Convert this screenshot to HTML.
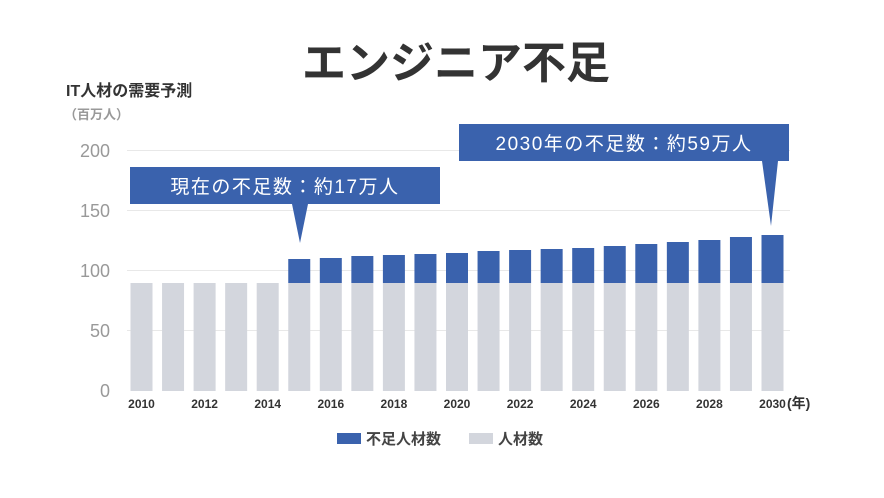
<!DOCTYPE html>
<html><head><meta charset="utf-8"><style>
html,body{margin:0;padding:0;background:#fff;}
svg{display:block;font-family:"Liberation Sans","Noto Sans CJK JP",sans-serif;}
</style></head><body>
<svg width="884" height="498" viewBox="0 0 884 498" xmlns="http://www.w3.org/2000/svg">
<rect width="884" height="498" fill="#fff"/>
<text x="456" y="78" text-anchor="middle" font-size="44" font-weight="bold" fill="#333">エンジニア不足</text>
<text x="66" y="96" font-size="16" font-weight="bold" fill="#333">IT人材の需要予測</text>
<text x="64" y="119" font-size="13" font-weight="bold" fill="#999">（百万人）</text>
<g stroke="#e8e8e8" stroke-width="1">
<line x1="127" y1="150.5" x2="790" y2="150.5"/>
<line x1="127" y1="210.5" x2="790" y2="210.5"/>
<line x1="127" y1="270.5" x2="790" y2="270.5"/>
<line x1="127" y1="330.5" x2="790" y2="330.5"/>
</g>
<g font-size="18" fill="#999" text-anchor="end">
<text x="110" y="157">200</text>
<text x="110" y="217">150</text>
<text x="110" y="277">100</text>
<text x="110" y="337">50</text>
<text x="110" y="397">0</text>
</g>
<g fill="#d3d6dd">
<rect x="130.5" y="283" width="22" height="108"/>
<rect x="162.05" y="283" width="22" height="108"/>
<rect x="193.6" y="283" width="22" height="108"/>
<rect x="225.15" y="283" width="22" height="108"/>
<rect x="256.7" y="283" width="22" height="108"/>
<rect x="288.25" y="283" width="22" height="108"/>
<rect x="319.8" y="283" width="22" height="108"/>
<rect x="351.35" y="283" width="22" height="108"/>
<rect x="382.9" y="283" width="22" height="108"/>
<rect x="414.45" y="283" width="22" height="108"/>
<rect x="446" y="283" width="22" height="108"/>
<rect x="477.55" y="283" width="22" height="108"/>
<rect x="509.1" y="283" width="22" height="108"/>
<rect x="540.65" y="283" width="22" height="108"/>
<rect x="572.2" y="283" width="22" height="108"/>
<rect x="603.75" y="283" width="22" height="108"/>
<rect x="635.3" y="283" width="22" height="108"/>
<rect x="666.85" y="283" width="22" height="108"/>
<rect x="698.4" y="283" width="22" height="108"/>
<rect x="729.95" y="283" width="22" height="108"/>
<rect x="761.5" y="283" width="22" height="108"/>
</g>
<g fill="#3a62ad">
<rect x="288.25" y="259" width="22" height="24"/>
<rect x="319.8" y="258" width="22" height="25"/>
<rect x="351.35" y="256" width="22" height="27"/>
<rect x="382.9" y="255" width="22" height="28"/>
<rect x="414.45" y="254" width="22" height="29"/>
<rect x="446" y="253" width="22" height="30"/>
<rect x="477.55" y="251" width="22" height="32"/>
<rect x="509.1" y="250" width="22" height="33"/>
<rect x="540.65" y="249" width="22" height="34"/>
<rect x="572.2" y="248" width="22" height="35"/>
<rect x="603.75" y="246" width="22" height="37"/>
<rect x="635.3" y="244" width="22" height="39"/>
<rect x="666.85" y="242" width="22" height="41"/>
<rect x="698.4" y="240" width="22" height="43"/>
<rect x="729.95" y="237" width="22" height="46"/>
<rect x="761.5" y="235" width="22" height="48"/>
</g>
<g font-size="12" font-weight="bold" fill="#333" text-anchor="middle">
<text x="141.5" y="408">2010</text>
<text x="204.6" y="408">2012</text>
<text x="267.7" y="408">2014</text>
<text x="330.8" y="408">2016</text>
<text x="393.9" y="408">2018</text>
<text x="457" y="408">2020</text>
<text x="520.1" y="408">2022</text>
<text x="583.2" y="408">2024</text>
<text x="646.3" y="408">2026</text>
<text x="709.4" y="408">2028</text>
<text x="772.5" y="408">2030</text>
</g>
<text x="787" y="408" font-size="14" font-weight="bold" fill="#333">(年)</text>
<polygon points="130,167 440,167 440,204 308,204 300,243 292,204 130,204" fill="#3a62ad"/>
<text x="285" y="193" text-anchor="middle" font-size="19" fill="#fff" letter-spacing="1.5">現在の不足数：約17万人</text>
<polygon points="459,124 789,124 789,161 778,161 771,226 762,161 459,161" fill="#3a62ad"/>
<text x="624" y="150" text-anchor="middle" font-size="19" fill="#fff" letter-spacing="1.5">2030年の不足数：約59万人</text>
<rect x="337" y="433" width="24" height="11" fill="#3a62ad"/>
<text x="366" y="444" font-size="15" font-weight="bold" fill="#444">不足人材数</text>
<rect x="469" y="433" width="24" height="11" fill="#d3d6dd"/>
<text x="498" y="444" font-size="15" font-weight="bold" fill="#444">人材数</text>
</svg>
</body></html>
